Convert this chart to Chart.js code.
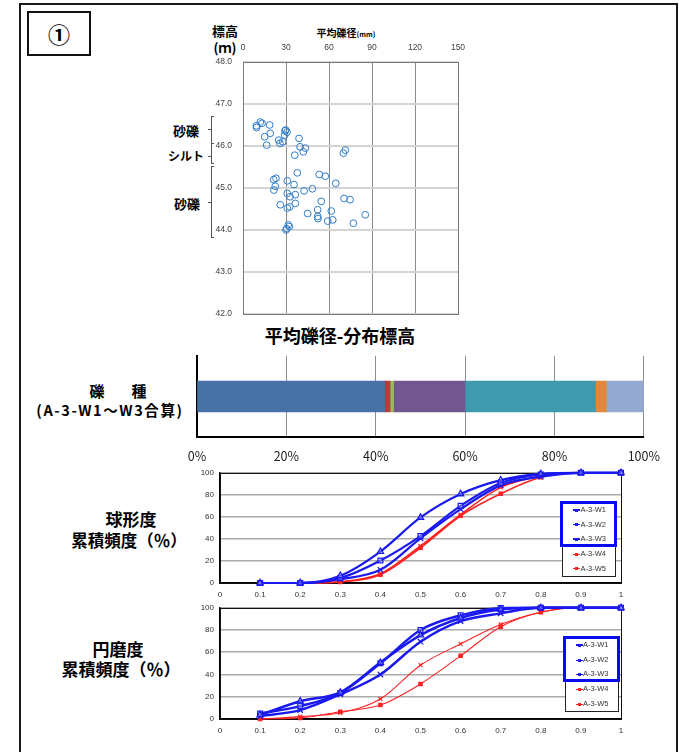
<!DOCTYPE html>
<html lang="ja"><head><meta charset="utf-8">
<script src="https://cdn.jsdelivr.net/npm/chart.js@4.4.1/dist/chart.umd.min.js"></script>
<style>
html,body{margin:0;padding:0;background:#fff;}
body{width:679px;height:752px;position:relative;overflow:hidden;font-family:"Noto Sans CJK JP","Noto Sans",sans-serif;}
.a{position:absolute;}
.t{position:absolute;transform:translate(-50%,-50%);white-space:nowrap;font-weight:bold;color:#000;line-height:1;}
canvas{position:absolute;}
.lg{position:absolute;font-family:"Liberation Sans",Arial,sans-serif;font-size:7.5px;color:#333;white-space:nowrap;line-height:1;}
</style></head>
<body>
<div class="a" style="left:19px;top:3px;width:655px;height:800px;border:2px solid #1a1a1a;border-bottom:none;"></div>
<div class="a" style="left:27px;top:11px;width:60px;height:41px;border:2px solid #111;"></div>
<div class="t" style="left:59px;top:33px;font-size:22px;">①</div>

<!-- scatter labels -->
<div class="t" style="left:225px;top:30px;font-size:13px;">標高</div>
<div class="t" style="left:225px;top:47px;font-size:13px;">(ｍ)</div>
<div class="t" style="left:346px;top:33px;font-size:10px;">平均礫径<span style="font-size:7px;">(mm)</span></div>
<div class="t" style="left:186px;top:130px;font-size:13px;">砂礫</div>
<div class="t" style="left:186px;top:156px;font-size:12px;">シルト</div>
<div class="t" style="left:187px;top:203px;font-size:13px;">砂礫</div>
<div id="brackets"></div>
<div class="t" style="left:340px;top:335px;font-size:18px;">平均礫径-分布標高</div>

<!-- bar labels -->
<div class="t" style="left:118px;top:390px;font-size:15px;letter-spacing:6px;padding-left:6px;">礫　種</div>
<div class="t" style="left:110px;top:410px;font-size:14.5px;letter-spacing:1.6px;">(A-3-W1～W3合算)</div>

<!-- line labels -->
<div class="t" style="left:131px;top:518px;font-size:17px;">球形度</div>
<div class="t" style="left:129px;top:540px;font-size:16.5px;">累積頻度（％）</div>
<div class="t" style="left:118px;top:648px;font-size:17px;">円磨度</div>
<div class="t" style="left:121px;top:668px;font-size:17px;">累積頻度（％）</div>

<canvas id="cScatter" width="280" height="292" style="left:195px;top:38px;"></canvas>
<canvas id="cBar" width="522" height="120" style="left:150px;top:350px;"></canvas>
<canvas id="cSph" width="445" height="142" style="left:190px;top:462px;"></canvas>
<canvas id="cRnd" width="445" height="143" style="left:190px;top:597px;"></canvas>
<div id="legends"></div>

<script>
// ---------- data ----------
const meanDiameter = [9.3, 9.5, 12.1, 13.3, 18.6, 19.0, 15.1, 16.5, 24.9, 25.8, 27.7, 29.1, 29.8, 30.7, 29.3, 39.1, 39.8, 43.5, 42.1, 36.1, 71.4, 70.0, 37.9, 53.2, 57.4, 64.7, 23.0, 21.4, 22.5, 21.6, 30.9, 35.6, 48.4, 42.6, 30.9, 32.8, 36.5, 54.6, 70.5, 74.7, 26.0, 32.6, 30.9, 36.5, 45.1, 52.1, 61.6, 52.1, 52.3, 59.1, 62.6, 77.0, 85.3, 31.6, 32.3, 30.5, 30.0];
const elevation = [46.48, 46.44, 46.57, 46.54, 46.50, 46.30, 46.22, 46.02, 46.14, 46.06, 46.10, 46.26, 46.38, 46.33, 46.36, 46.18, 45.98, 45.95, 45.86, 45.78, 45.90, 45.83, 45.36, 45.32, 45.28, 45.11, 45.23, 45.20, 45.04, 44.95, 45.17, 45.08, 44.98, 44.93, 44.87, 44.79, 44.84, 44.68, 44.75, 44.72, 44.60, 44.55, 44.52, 44.63, 44.39, 44.48, 44.45, 44.32, 44.27, 44.21, 44.24, 44.16, 44.36, 44.12, 44.08, 44.03, 44.00];
const scatterXTicks = [0, 30, 60, 90, 120, 150];
const scatterYTicks = [42, 43, 44, 45, 46, 47, 48];

const barCategories = ['礫種'];
const rockTypes = ['type1', 'type2', 'type3', 'type4', 'type5', 'type6', 'type7'];
const rockShares = [42.0, 1.2, 0.8, 16.0, 29.2, 2.4, 8.4];
const barTicks = [0, 20, 40, 60, 80, 100];

const gradeX = [0.1, 0.2, 0.3, 0.4, 0.5, 0.6, 0.7, 0.8, 0.9, 1.0];
const seriesNames = ['A-3-W1', 'A-3-W2', 'A-3-W3', 'A-3-W4', 'A-3-W5'];
const sphericityW1 = [0, 0, 6.6, 28.5, 59.5, 80.8, 93.4, 99, 100, 100];
const sphericityW2 = [0, 0, 4.5, 20.4, 42.6, 70, 90.7, 98.5, 100, 100];
const sphericityW3 = [0, 0, 3.5, 12, 40.5, 67, 88.6, 96.5, 100, 100];
const sphericityW4 = [0, 0, 1.2, 8.4, 33.6, 62, 86.8, 97, 100, 100];
const sphericityW5 = [0, 0, 1, 7.5, 32, 61, 81, 96, 100, 100];
const roundnessW1 = [3.6, 16, 24, 50.7, 75.4, 90.8, 98.5, 100, 100, 100];
const roundnessW2 = [5, 11.6, 23.4, 50.1, 80, 93.2, 99.7, 100, 100, 100];
const roundnessW3 = [2.7, 8, 22.2, 40, 69.5, 88, 95, 100, 100, 100];
const roundnessW4 = [0, 2.1, 5.6, 18, 48.4, 67.5, 85, 96, 100, 100];
const roundnessW5 = [0, 1, 6.5, 12.5, 31.5, 56.8, 83, 96, 100, 100];

// ---------- styles ----------
const rockColors = ['#4672a8', '#b33f3c', '#97b95a', '#71578e', '#3f9ab0', '#e0883c', '#94a9d1'];
const BLUE = '#1a1af0', RED = '#ff2020';
const seriesStyle = [
  {color: BLUE, point: 'triangle', r: 3.6},
  {color: BLUE, point: 'rect', r: 3.4},
  {color: BLUE, point: 'crossRot', r: 3.8},
  {color: RED, point: 'crossRot', r: 2.8},
  {color: RED, point: 'rect', r: 2.4}
];

Chart.defaults.font.family = '"Liberation Sans", Arial, sans-serif';
Chart.defaults.color = '#404040';

const boxPlugin = (color, w) => ({
  id: 'boxPlugin',
  beforeDatasetsDraw(c) {
    const a = c.chartArea, x = c.ctx;
    x.save(); x.strokeStyle = color; x.lineWidth = w;
    x.strokeRect(Math.round(a.left) + 0.5, Math.round(a.top) + 0.5, Math.round(a.right - a.left), Math.round(a.bottom - a.top));
    x.restore();
  }
});

// ---------- scatter ----------
new Chart(document.getElementById('cScatter'), {
  type: 'scatter',
  data: {datasets: [{
    label: '標高',
    data: meanDiameter.map((d, i) => ({x: d, y: elevation[i]})),
    pointStyle: 'circle', pointRadius: 3.4, pointBorderWidth: 1,
    borderColor: '#2f7dc9', backgroundColor: 'rgba(255,255,255,0)'
  }]},
  options: {
    responsive: false, animation: false, devicePixelRatio: 1,
    layout: {padding: {top: 0, right: 17, bottom: 0, left: 0}},
    plugins: {legend: {display: false}, tooltip: {enabled: false}},
    scales: {
      x: {type: 'linear', position: 'top', min: 0, max: 150,
        afterBuildTicks(s) { s.ticks = scatterXTicks.map(v => ({value: v})); },
        ticks: {font: {size: 8.5}, color: '#404040', padding: 9, maxRotation: 0},
        grid: {color: '#8a8a8a', lineWidth: 1, drawTicks: false},
        border: {display: false},
        afterFit(s) { s.height = 24; }},
      y: {type: 'linear', min: 42, max: 48,
        afterBuildTicks(s) { s.ticks = scatterYTicks.map(v => ({value: v})); },
        ticks: {font: {size: 8.5}, color: '#404040', padding: 11, callback: v => v.toFixed(1)},
        grid: {color: '#d4d4d4', lineWidth: 2, drawTicks: false},
        border: {display: false},
        afterFit(s) { s.width = 48; }}
    }
  },
  plugins: [boxPlugin('#7a7a7a', 1)]
});

// brackets (annotation shapes beside scatter axis)
(function(){
  const host = document.getElementById('brackets');
  const spans = [[116, 143, 129], [143, 163, 156], [166, 237, 202]];
  let h = '';
  spans.forEach(([t, b, m]) => {
    h += `<div class="a" style="left:211px;top:${t}px;width:1px;height:${b - t}px;background:#555"></div>`;
    h += `<div class="a" style="left:211px;top:${t}px;width:3px;height:1px;background:#555"></div>`;
    h += `<div class="a" style="left:211px;top:${b}px;width:3px;height:1px;background:#555"></div>`;
    h += `<div class="a" style="left:208px;top:${m}px;width:4px;height:1px;background:#555"></div>`;
  });
  host.innerHTML = h;
})();

// ---------- stacked 100% bar ----------
new Chart(document.getElementById('cBar'), {
  type: 'bar',
  data: {labels: barCategories,
    datasets: rockShares.map((v, i) => ({label: rockTypes[i], data: [v], backgroundColor: rockColors[i], borderWidth: 0, barThickness: 31}))},
  options: {
    indexAxis: 'y', responsive: false, animation: false, devicePixelRatio: 1,
    layout: {padding: {top: 6, right: 2, bottom: 0, left: 0}},
    plugins: {legend: {display: false}, tooltip: {enabled: false}},
    scales: {
      x: {stacked: true, min: 0, max: 100,
        afterBuildTicks(s) { s.ticks = barTicks.map(v => ({value: v})); },
        ticks: {font: {size: 12.5, family: '"Noto Sans CJK JP", sans-serif'}, color: '#222', padding: 12, callback: v => v + '%'},
        grid: {color: '#8c8c8c', lineWidth: 1, drawTicks: false},
        border: {color: '#000', width: 2},
        afterFit(s) { s.height = 33; }},
      y: {stacked: true, ticks: {display: false}, grid: {display: false},
        border: {color: '#000', width: 2},
        afterFit(s) { s.width = 47; }}
    }
  }
});

// ---------- cumulative lines ----------
function cumulativeChart(id, seriesData, blueW, redW) {
  new Chart(document.getElementById(id), {
    type: 'line',
    data: {datasets: seriesData.map((arr, i) => ({
      label: seriesNames[i],
      data: gradeX.map((x, j) => ({x: x, y: arr[j]})),
      borderColor: seriesStyle[i].color,
      backgroundColor: 'rgba(255,255,255,0)',
      borderWidth: i < 3 ? blueW : redW,
      pointStyle: seriesStyle[i].point,
      pointRadius: seriesStyle[i].r,
      pointBorderWidth: i < 3 ? 1.3 : 1.1,
      pointBorderColor: seriesStyle[i].color,
      pointBackgroundColor: i < 3 ? 'rgba(255,255,255,0.3)' : seriesStyle[i].color,
      cubicInterpolationMode: 'monotone',
      fill: false, clip: 8
    }))},
    options: {
      responsive: false, animation: false, devicePixelRatio: 1,
      layout: {padding: {top: 10, right: 14, bottom: 0, left: 0}},
      plugins: {legend: {display: false}, tooltip: {enabled: false}},
      scales: {
        x: {type: 'linear', min: 0, max: 1,
          ticks: {stepSize: 0.1, font: {size: 8}, color: '#333', padding: 7, maxRotation: 0,
            callback: v => String(Number(v.toFixed(1)))},
          grid: {display: false, drawTicks: false},
          border: {color: '#000', width: 2},
          afterFit(s) { s.height = 21; }},
        y: {type: 'linear', min: 0, max: 100,
          ticks: {stepSize: 10, font: {size: 8}, color: '#333', padding: 6},
          grid: {color: '#ababab', lineWidth: 1.6, drawTicks: false},
          border: {color: '#000', width: 1.5},
          afterFit(s) { s.width = 30; }}
      }
    },
    plugins: [boxPlugin('#111', 1)]
  });
}
cumulativeChart('cSph', [sphericityW1, sphericityW2, sphericityW3, sphericityW4, sphericityW5], 2.2, 1.6);
cumulativeChart('cRnd', [roundnessW1, roundnessW2, roundnessW3, roundnessW4, roundnessW5], 2.5, 1.1);

// ---------- legends ----------
function legend(box, blue, rows, lineX, textX) {
  let h = `<div class="a" style="left:${box[0]}px;top:${box[1]}px;width:${box[2]}px;height:${box[3]}px;border:1px solid #222;background:#fff"></div>`;
  h += `<div class="a" style="left:${blue[0]}px;top:${blue[1]}px;width:${blue[2]}px;height:${blue[3]}px;border:3px solid #0a0af0;"></div>`;
  seriesNames.forEach((n, i) => {
    const y = rows[i], c = seriesStyle[i].color;
    h += `<div class="a" style="left:${lineX}px;top:${y - 0.75}px;width:7px;height:1.5px;background:${c}"></div>`;
    h += `<div class="a" style="left:${lineX + 2}px;top:${y - 1.5}px;width:3px;height:3px;background:${c}"></div>`;
    h += `<div class="lg" style="left:${textX}px;top:${y - 4}px;">${n}</div>`;
  });
  return h;
}
document.getElementById('legends').innerHTML =
  legend([562, 502, 52, 73], [560, 501, 51, 40], [510, 524.5, 539, 554.3, 568.7], 573, 580.5) +
  legend([565, 637, 52, 73], [563, 636, 51, 40], [645, 660.3, 674.3, 689.3, 704.3], 576, 583);
</script>
</body></html>
